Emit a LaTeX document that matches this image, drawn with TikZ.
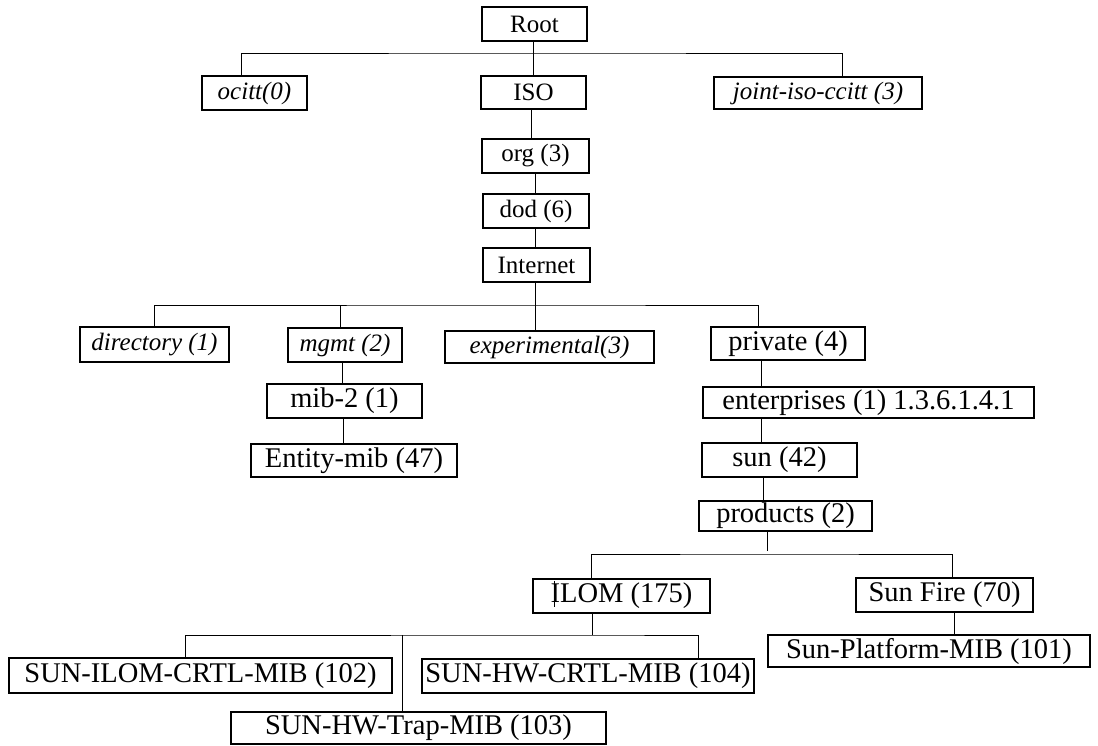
\documentclass[tikz,border=0pt]{standalone}
\usepackage{fontspec}
\setmainfont{Liberation Serif}

\begin{document}
\begin{tikzpicture}[x=1pt, y=-1pt,
    mibbox/.style 2 args={draw, line width=1.2pt, inner sep=0pt, minimum width=#1pt, minimum height=#2pt},
    small/.style={font=\fontsize{25}{30}\selectfont},
    big/.style={font=\fontsize{28.5}{34}\selectfont},
    link/.style={line width=1pt}]
                \useasboundingbox (0,0) rectangle (1098,745);

                % top of the tree
                \node[mibbox={105}{34}, small] (root) at (534.5,24) {Root};
                \node[mibbox={105}{34}, small] (ocitt) at (254.5,93) {\itshape ocitt(0)};
                \node[mibbox={105}{33}, small] (iso) at (533.5,92.5) {ISO};
                \node[mibbox={208}{32}, small] (joint) at (818,93) {\itshape joint-iso-ccitt (3)};
                \node[mibbox={107}{34}, small] (org) at (535.5,156) {org (3)};
                \node[mibbox={106}{34}, small] (dod) at (536,211) {dod (6)};
                \node[mibbox={107}{34}, small] (internet) at (536.5,265) {Internet};

                % under internet
                \node[mibbox={149}{35}, small] (directory) at (154.5,344.5) {\itshape directory (1)};
                \node[mibbox={114}{34}, small] (mgmt) at (345,345) {\itshape mgmt (2)};
                \node[mibbox={209}{32}, small] (experimental) at (549.5,347) {\itshape experimental(3)};
                \node[mibbox={154}{33}, big] (private) at (788,343.5) {private (4)};
                \node[mibbox={155}{34}, big] (mib2) at (344.5,401) {mib-2 (1)};
                \node[mibbox={206}{33}, big] (entity) at (354,460.5) {Entity-mib (47)};
                \node[mibbox={331}{31}, big] (enterprises) at (868.5,402.5) {enterprises (1) 1.3.6.1.4.1};
                \node[mibbox={155}{34}, big] (sun) at (779.5,460) {sun (42)};
                \node[mibbox={173}{30}, big] (products) at (785.5,516) {products (2)};

                % sun products
                \node[mibbox={177}{34}, big] (ilom) at (621.5,596) {ILOM (175)};
                \node[mibbox={177}{34}, big] (sunfire) at (944.5,595) {Sun Fire (70)};
                \node[mibbox={322}{32}, big] (platform) at (929,651) {Sun-Platform-MIB (101)};
                \node[mibbox={383}{35}, big] (ilomctrl) at (200.5,675.5) {SUN-ILOM-CRTL-MIB (102)};
                \node[mibbox={332}{34}, big] (hwctrl) at (588,676) {SUN-HW-CRTL-MIB (104)};
                \node[mibbox={375}{32}, big] (trap) at (418.5,728) {SUN-HW-Trap-MIB (103)};

                % forks
                \coordinate (fork1) at (533,53);
                \coordinate (fork2) at (535,305);
                \coordinate (fork3) at (767,554);
                \coordinate (fork4) at (592,635);

                % links
                \draw[link] (root.south -| fork1) -- (fork1);
                \draw[link] (ocitt.north -| 241,0) |- (fork1) -| (joint.north -| 842,0);
                \draw[link] (fork1) -- (iso.north -| fork1);
                \draw[link] (iso.south -| 531,0) -- (org.north -| 531,0);
                \draw[link] (org.south -| 535,0) -- (dod.north -| 535,0);
                \draw[link] (dod.south -| 535,0) -- (internet.north -| 535,0);
                \draw[link] (internet.south -| fork2) -- (fork2);
                \draw[link] (directory.north -| 154,0) |- (fork2) -| (private.north -| 758,0);
                \draw[link] (fork2 -| 340,0) -- (mgmt.north -| 340,0);
                \draw[link] (fork2) -- (experimental.north -| fork2);
                \draw[link] (mgmt.south -| 342,0) -- (mib2.north -| 342,0);
                \draw[link] (mib2.south -| 343,0) -- (entity.north -| 343,0);
                \draw[link] (private.south -| 761,0) -- (enterprises.north -| 761,0);
                \draw[link] (enterprises.south -| 761,0) -- (sun.north -| 761,0);
                \draw[link] (sun.south -| 763,0) -- (products.north -| 763,0);
                \draw[link] (products.south -| fork3) -- ([yshift=3pt]fork3);
                \draw[link] (ilom.north -| 591,0) |- (fork3) -| (sunfire.north -| 952,0);
                \draw[link] (sunfire.south -| 954,0) -- (platform.north -| 954,0);
                \draw[link] (ilom.south -| fork4) -- (fork4);
                \draw[link] (ilomctrl.north -| 185,0) |- (fork4) -| (hwctrl.north -| 698,0);
                \draw[link] (fork4 -| 402,0) -- (trap.north -| 402,0);

                % stray bar in the ILOM box
                \draw[link] (554,581) -- (554,607);
\end{tikzpicture}
\end{document}
